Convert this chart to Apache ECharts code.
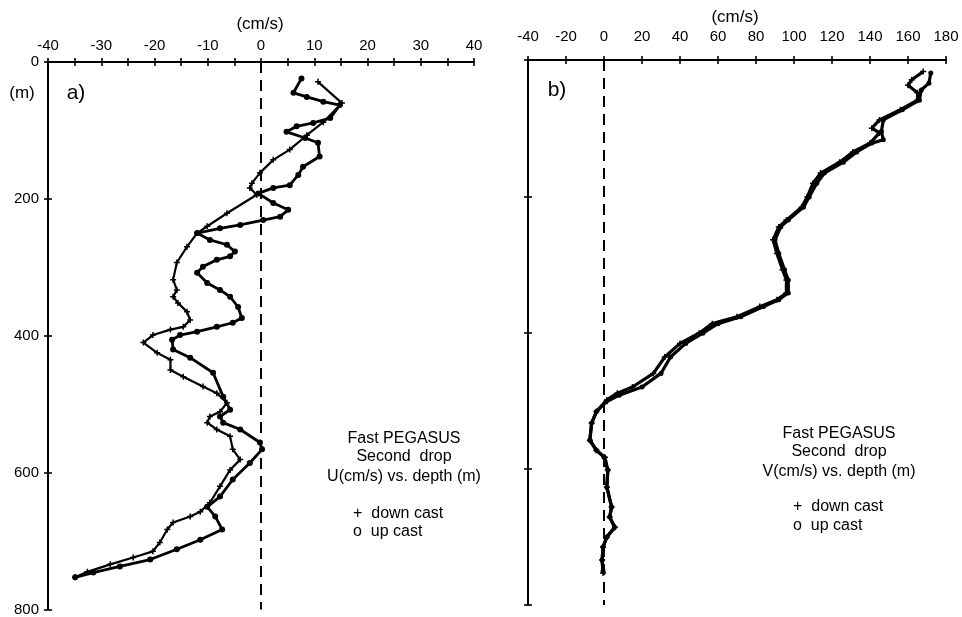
<!DOCTYPE html>
<html>
<head>
<meta charset="utf-8">
<script src="https://cdn.jsdelivr.net/npm/echarts@6/dist/echarts.min.js"></script>
<style>
html,body{margin:0;padding:0;background:#fff;}
#c{width:962px;height:617px;}
</style>
</head>
<body>
<div id="c"></div>
<script>
// ---- Panel a: U (cm/s) vs depth (m) ----
const uDownDepth = [29,60,88,107,128,143,162,177,184,194,221,240,250,270,293,318,333,343,352,365,377,387,391,399,410,425,435,450,460,474,484,498,511,518,527,537,547,566,581,596,620,644,657,664,673,683,702,715,724,734,745,753];
const uDownVal   = [10.7,15.2,11.7,8.6,5.4,2.3,-0.2,-1.7,-2.1,-0.8,-6.4,-10.1,-12,-13.9,-15.8,-16.5,-15.8,-16.5,-15.6,-13.9,-13.3,-14.6,-17,-20.3,-22.1,-19.5,-17,-17,-14.6,-10.9,-8.3,-6.4,-7.7,-9.6,-10.1,-8.3,-5.8,-5.3,-3.9,-5.8,-7.7,-9.6,-11.4,-13.3,-16.5,-17.6,-19,-20.3,-24,-28.3,-32.6,-34.9];
const uUpDepth = [24,45,51,58,63,82,89,94,102,111,118,138,153,165,180,184,192,206,216,226,231,238,243,250,260,267,277,284,289,299,308,323,333,343,358,374,381,387,394,399,406,420,432,454,489,508,518,527,537,556,566,586,610,635,650,664,683,698,712,727,737,746,753];
const uUpVal   = [7.6,6.1,8.6,11.7,14.8,13,9.8,6.7,4.8,8.3,10.7,11,7.9,7,5.4,2.3,-0.5,2.3,5.1,3.6,0.4,-3.9,-7.7,-12,-9.6,-6.4,-4.9,-5.8,-8.3,-10.9,-12,-10.1,-7.7,-5.8,-4.3,-3.6,-5.3,-8.3,-12,-15.2,-16.7,-16.5,-13.3,-9,-7.1,-5.8,-7.7,-7.1,-3.9,-0.2,0.2,-2.1,-5.3,-7.7,-10.1,-8.6,-7.3,-11.4,-15.8,-20.8,-26.5,-31.5,-34.9];

// ---- Panel b: V (cm/s) vs depth (m) ----
const vDownDepth = [17,29,37,48,59,73,88,100,107,122,135,150,166,181,201,216,235,245,264,284,308,323,342,352,362,377,387,401,416,436,460,480,489,499,516,533,558,573,583,602,627,656,671,686,700,715,734,753];
const vDownVal   = [168,162,160,165,165,156,145,141,145,140,131,124,114,110,107,104,96,92,89,91,94,96,96,91,82,70,57,50,40,32,26,15,7,1.5,-4,-6.5,-7.4,-4,0.5,2,1.5,4,3,5.8,1.5,-0.5,-1,-0.5];
const vUpDepth = [19,34,44,59,73,88,105,117,122,135,150,166,181,201,216,235,245,264,284,308,323,342,352,362,377,387,401,416,436,460,480,492,502,516,533,558,573,583,602,627,656,671,686,700,715,734,750];
const vUpVal   = [172,171,167,166,157,147,146,147,141,133,126,116,112,108,105,97,93,90,92,95,97,97,92,84,72,60,52,43,35,30,20,8,1,-4,-6.5,-7.5,-4,0,2,1.5,4,3,5.5,1.5,-0.5,-1,-0.5];

// ---- axis ticks ----
const uTicks = {min:-40, max:40, step:5, labelStep:10};
const vTicks = {min:-40, max:180, step:20, labelStep:20};
const depthTicks = {min:0, max:800, step:200};

const pair = (vals, deps) => vals.map((v,i)=>[v, deps[i]]);
const FONT = "'Liberation Sans', Arial, Helvetica, sans-serif";
const BLACK = '#000';
const PLUS = 'path://M-1,-4H1V-1H4V1H1V4H-1V1H-4V-1H-1Z';

function xAxisPair(gi, t, labelMargin){
  const outer = {
    gridIndex: gi, type:'value', position:'top', min:t.min, max:t.max, interval:t.step,
    axisLine:{show:true, onZero:false, lineStyle:{color:BLACK, width:2}},
    axisTick:{show:true, inside:false, length:4, lineStyle:{color:BLACK, width:1.6}},
    axisLabel:{show:true, margin:labelMargin, color:BLACK, fontSize:15, fontFamily:FONT,
      formatter: v => (Math.round(v) % t.labelStep === 0 ? String(v) : '')},
    splitLine:{show:false}
  };
  const inner = {
    gridIndex: gi, type:'value', position:'top', min:t.min, max:t.max, interval:t.step,
    axisLine:{show:false, onZero:false},
    axisTick:{show:true, inside:true, length:4, lineStyle:{color:BLACK, width:1.6}},
    axisLabel:{show:false}, splitLine:{show:false}
  };
  return [outer, inner];
}
function yAxisPair(gi, t, showLabels){
  const outer = {
    gridIndex: gi, type:'value', position:'left', inverse:true, min:t.min, max:t.max, interval:t.step,
    axisLine:{show:true, onZero:false, lineStyle:{color:BLACK, width:2}},
    axisTick:{show:true, inside:false, length:4, lineStyle:{color:BLACK, width:1.6}},
    axisLabel:{show:showLabels, margin:9, color:BLACK, fontSize:15, fontFamily:FONT},
    splitLine:{show:false}
  };
  const inner = {
    gridIndex: gi, type:'value', position:'left', inverse:true, min:t.min, max:t.max, interval:t.step,
    axisLine:{show:false, onZero:false},
    axisTick:{show:true, inside:true, length:4, lineStyle:{color:BLACK, width:1.6}},
    axisLabel:{show:false}, splitLine:{show:false}
  };
  return [outer, inner];
}

const zeroLine = {
  silent:true, symbol:['none','none'], label:{show:false},
  lineStyle:{color:BLACK, width:2, type:[11,7]},
  data:[{xAxis:0}]
};

function lineSeries(name, xi, yi, data, symbol, size, width, mark){
  const s = {
    name, type:'line', xAxisIndex:xi, yAxisIndex:yi, data,
    symbol, symbolSize:size, showSymbol:true, smooth:false,
    lineStyle:{color:BLACK, width}, itemStyle:{color:BLACK, borderColor:BLACK, borderWidth:0},
    animation:false, z:3
  };
  if (mark) s.markLine = zeroLine;
  return s;
}

const txt = (x, y, text, size, align) => ({
  type:'text', x, y,
  style:{text, x:0, y:0, fill:BLACK, font:`${size}px ${FONT}`, textAlign:align||'center', textVerticalAlign:'middle'}
});

const chart = echarts.init(document.getElementById('c'), null, {renderer:'canvas'});
chart.setOption({
  backgroundColor:'#ffffff',
  animation:false,
  grid:[
    {left:48, top:62, width:426, height:548},
    {left:528, top:60, width:418, height:545}
  ],
  xAxis:[...xAxisPair(0, uTicks, 9), ...xAxisPair(1, vTicks, 16)],
  yAxis:[...yAxisPair(0, depthTicks, true), ...yAxisPair(1, depthTicks, false)],
  series:[
    lineSeries('down cast', 0, 0, pair(uDownVal, uDownDepth), PLUS, 6, 2.2, true),
    lineSeries('up cast', 0, 0, pair(uUpVal, uUpDepth), 'circle', 6, 2.8, false),
    lineSeries('down cast', 2, 2, pair(vDownVal, vDownDepth), PLUS, 6, 3.2, true),
    lineSeries('up cast', 2, 2, pair(vUpVal, vUpDepth), 'circle', 5, 3.2, false)
  ],
  graphic:[
    txt(260, 24, '(cm/s)', 17),
    txt(735, 17, '(cm/s)', 17),
    txt(22, 93, '(m)', 17),
    txt(76, 93, 'a)', 21),
    txt(557, 90, 'b)', 21),
    txt(404, 439, 'Fast PEGASUS', 16),
    txt(404, 457, 'Second  drop', 16),
    txt(404, 477, 'U(cm/s) vs. depth (m)', 16),
    txt(353, 514, '+  down cast', 16, 'left'),
    txt(353, 532, 'o  up cast', 16, 'left'),
    txt(839, 434, 'Fast PEGASUS', 16),
    txt(839, 452, 'Second  drop', 16),
    txt(839, 472, 'V(cm/s) vs. depth (m)', 16),
    txt(793, 507, '+  down cast', 16, 'left'),
    txt(793, 526, 'o  up cast', 16, 'left')
  ]
});
</script>
</body>
</html>
